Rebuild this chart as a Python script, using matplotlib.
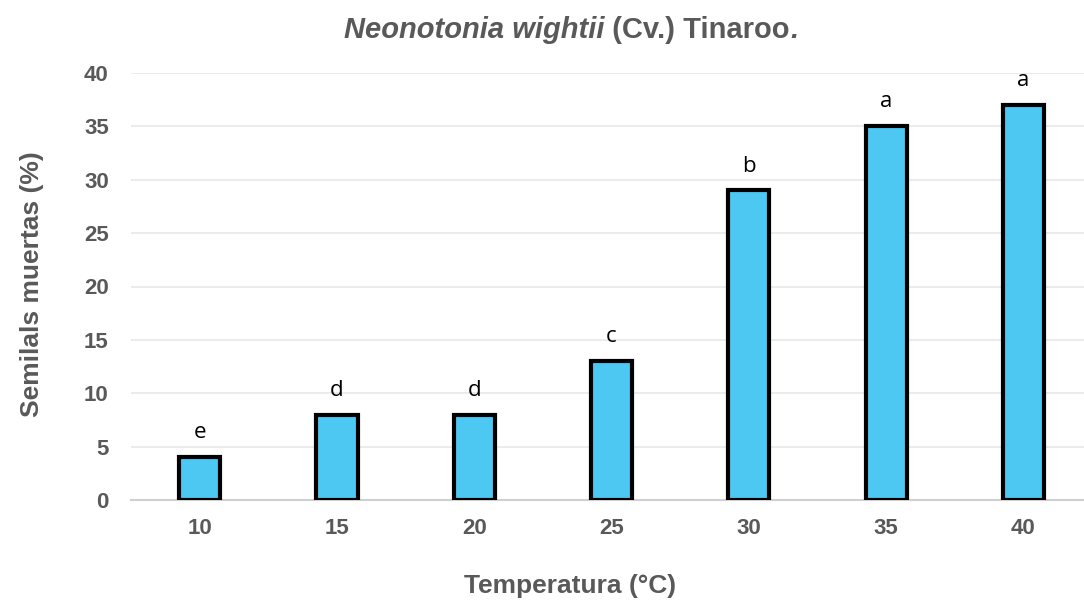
import numpy as np
import matplotlib
matplotlib.use("Agg")
import matplotlib.pyplot as plt

temperatures = ["10", "15", "20", "25", "30", "35", "40"]
dead_pct = [4, 8, 8, 13, 29, 35, 37]
letters = ["e", "d", "d", "c", "b", "a", "a"]

GRAY = "#595959"
BAR_COLOR = "#4DC8F2"

plt.rcParams["font.family"] = ["Liberation Sans", "DejaVu Sans"]

fig = plt.figure(figsize=(10.84, 6.02), dpi=100)
ax = fig.add_axes([131 / 1084, 102 / 602, 953 / 1084, 427 / 602])

x = np.arange(len(temperatures))
ax.bar(x, dead_pct, width=0.3, color=BAR_COLOR, edgecolor="black", linewidth=3, zorder=3)

for xi, val, lab in zip(x, dead_pct, letters):
    ax.annotate(lab, (xi, val), xytext=(0, 10), textcoords="offset points",
                ha="center", va="bottom", fontsize=16, color="black",
                family=["Open Sans", "DejaVu Sans"])

ax.set_xlim(-0.5, -0.5 + 953 / 137.3)
ax.set_ylim(0, 40)
ax.set_yticks(range(0, 41, 5))
ax.set_xticks(x)
ax.set_xticklabels(temperatures)
ax.grid(axis="y", color="#EBEBEB", linewidth=1.5, zorder=0)
for side in ["top", "right", "left"]:
    ax.spines[side].set_visible(False)
ax.spines["bottom"].set_color("#D0D0D0")
ax.spines["bottom"].set_linewidth(1.5)
ax.tick_params(axis="both", length=0, labelsize=16, labelcolor=GRAY)
ax.tick_params(axis="y", pad=16)
ax.tick_params(axis="x", pad=13)
for t in ax.get_xticklabels() + ax.get_yticklabels():
    t.set_fontweight("bold")

# title: italic part + regular part, laid out side by side
t1 = fig.text(0, 0, "Neonotonia wightii", fontsize=21, fontweight="bold", style="italic", color=GRAY)
t2 = fig.text(0, 0, " (Cv.) Tinaroo", fontsize=21, fontweight="bold", color=GRAY)
t3 = fig.text(0, 0, ".", fontsize=21, fontweight="bold", style="italic", color=GRAY)
fig.canvas.draw()
r = fig.canvas.get_renderer()
w1 = t1.get_window_extent(r).width
w2 = t2.get_window_extent(r).width
w3 = t3.get_window_extent(r).width
total = w1 + w2 + w3
x0 = 571 - total / 2
ypix = 602 - 38
t1.set_position((x0 / 1084, ypix / 602))
t2.set_position(((x0 + w1) / 1084, ypix / 602))
t3.set_position(((x0 + w1 + w2) / 1084, ypix / 602))

fig.text(570 / 1084, 1 - 586 / 602, "Temperatura (°C)", ha="center", va="center",
         fontsize=19, fontweight="bold", color=GRAY)
fig.text(32 / 1084, 1 - 284 / 602, "Semilals muertas (%)", ha="center", va="center",
         rotation=90, fontsize=19, fontweight="bold", color=GRAY)

fig.savefig("out.png", dpi=100)
